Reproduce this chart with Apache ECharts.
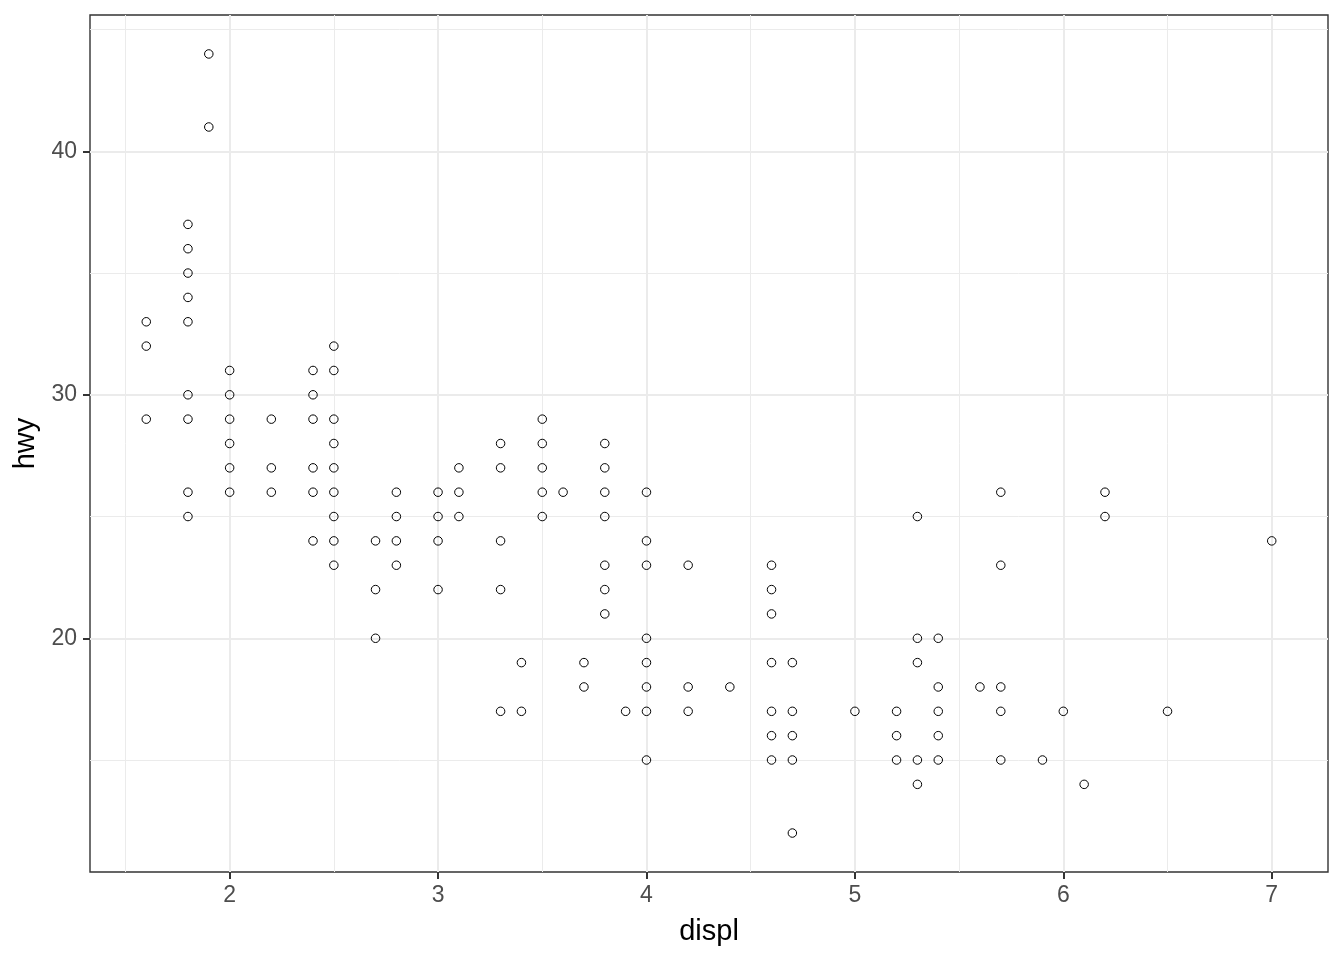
<!DOCTYPE html>
<html>
<head>
<meta charset="utf-8">
<script src="https://cdn.jsdelivr.net/npm/echarts@6/dist/echarts.min.js"></script>
<style>
  html, body { margin: 0; padding: 0; background: #fff; }
  #chart { width: 1344px; height: 960px; }
</style>
</head>
<body>
<div id="chart"></div>
<script>
// displ values, one per column of points
const displ = [1.6, 1.8, 1.9, 2.0, 2.2, 2.4, 2.5, 2.7, 2.8, 3.0, 3.1, 3.3, 3.4, 3.5, 3.6, 3.7, 3.8, 3.9,
  4.0, 4.2, 4.4, 4.6, 4.7, 5.0, 5.2, 5.3, 5.4, 5.6, 5.7, 5.9, 6.0, 6.1, 6.2, 6.5, 7.0]
// hwy values seen at each displ
const hwy = [
  [33, 32, 29],
  [37, 36, 35, 34, 33, 30, 29, 26, 25],
  [44, 41],
  [31, 30, 29, 28, 27, 26],
  [29, 27, 26],
  [31, 30, 29, 27, 26, 24],
  [32, 31, 29, 28, 27, 26, 25, 24, 23],
  [24, 22, 20],
  [26, 25, 24, 23],
  [26, 25, 24, 22],
  [27, 26, 25],
  [28, 27, 24, 22, 17],
  [19, 17],
  [29, 28, 27, 26, 25],
  [26],
  [19, 18],
  [28, 27, 26, 25, 23, 22, 21],
  [17],
  [26, 24, 23, 20, 19, 18, 17, 15],
  [23, 18, 17],
  [18],
  [23, 22, 21, 19, 17, 16, 15],
  [19, 17, 16, 15, 12],
  [17],
  [17, 16, 15],
  [25, 20, 19, 15, 14],
  [20, 18, 17, 16, 15],
  [18],
  [26, 23, 18, 17, 15],
  [15],
  [17],
  [14],
  [26, 25],
  [17],
  [24]
]
const xTicks = [2, 3, 4, 5, 6, 7]
const xMinor = [1.5, 2.5, 3.5, 4.5, 5.5, 6.5]
const yTicks = [20, 30, 40]
const yMinor = [15, 25, 35, 45]

const points = []
displ.forEach((d, i) => {
  hwy[i].forEach(h => points.push([d, h]))
})

const gridLines = []
xMinor.forEach(v => gridLines.push({ xAxis: v, lineStyle: { width: 1 } }))
xTicks.forEach(v => gridLines.push({ xAxis: v, lineStyle: { width: 2 } }))
yMinor.forEach(v => gridLines.push({ yAxis: v, lineStyle: { width: 1 } }))
yTicks.forEach(v => gridLines.push({ yAxis: v, lineStyle: { width: 2 } }))

const font = 'Liberation Sans, Arial, sans-serif'
const chart = echarts.init(document.getElementById('chart'))
chart.setOption({
  animation: false,
  grid: {
    left: 90, right: 16, top: 15, bottom: 88,
    show: true, borderColor: '#333333', borderWidth: 1.4, backgroundColor: '#fff'
  },
  xAxis: {
    type: 'value',
    min: 1.33,
    max: 7.27,
    name: 'displ',
    nameLocation: 'middle',
    nameGap: 45,
    nameTextStyle: { fontFamily: font, fontSize: 29, color: '#000' },
    axisLine: { show: false },
    axisTick: { show: true, length: 7, customValues: xTicks, lineStyle: { color: '#333', width: 2 } },
    axisLabel: { customValues: xTicks, margin: 12, fontFamily: font, fontSize: 23, color: '#4d4d4d' },
    splitLine: { show: false }
  },
  yAxis: {
    type: 'value',
    min: 10.4,
    max: 45.6,
    name: 'hwy',
    nameLocation: 'middle',
    nameGap: 46,
    nameTextStyle: { fontFamily: font, fontSize: 29, color: '#000' },
    axisLine: { show: false },
    axisTick: { show: true, length: 7, customValues: yTicks, lineStyle: { color: '#333', width: 2 } },
    axisLabel: { customValues: yTicks, margin: 13, fontFamily: font, fontSize: 23, color: '#4d4d4d' },
    splitLine: { show: false }
  },
  series: [
    {
      type: 'scatter',
      data: [],
      silent: true,
      markLine: {
        silent: true,
        symbol: 'none',
        label: { show: false },
        lineStyle: { color: '#ebebeb', type: 'solid' },
        data: gridLines
      },
      z: 1
    },
    {
      type: 'scatter',
      data: points,
      symbol: 'circle',
      symbolSize: 8.5,
      itemStyle: { color: 'rgba(255,255,255,0)', borderColor: '#000', borderWidth: 1, opacity: 1 },
      z: 5
    }
  ]
})
</script>
</body>
</html>
